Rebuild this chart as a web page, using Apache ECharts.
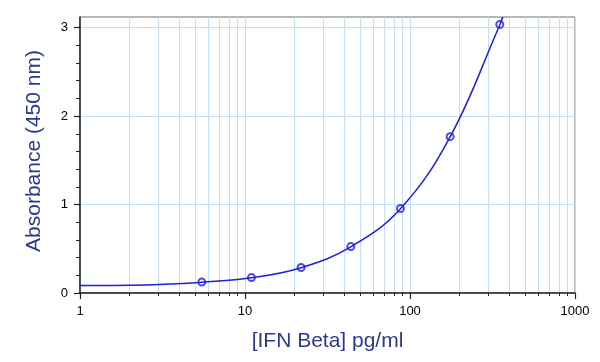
<!DOCTYPE html>
<html>
<head>
<meta charset="utf-8">
<script src="https://cdn.jsdelivr.net/npm/echarts@6/dist/echarts.min.js"></script>
<style>
html,body{margin:0;padding:0;background:#fff;}
#chart{width:600px;height:362px;}
</style>
</head>
<body>
<div id="chart"></div>
<script>
// Standard points (concentration pg/ml, absorbance)
var pointX = [5.47, 10.94, 21.88, 43.75, 87.5, 175, 350];
var pointY = [0.123, 0.174, 0.288, 0.525, 0.955, 1.767, 3.035];
// Fitted curve
var curveX = [1, 2, 3, 5.47, 10.94, 21.88, 43.75, 87.5, 175, 350, 365];
var curveY = [0.084, 0.087, 0.095, 0.122, 0.172, 0.286, 0.522, 0.953, 1.765, 3.03, 3.12];
// Tick labels
var xLabels = [1, 10, 100, 1000];
var xMinor = [1,2,3,4,5,6,7,8,9,10,20,30,40,50,60,70,80,90,100,200,300,400,500,600,700,800,900,1000];
var yLabels = [0, 1, 2, 3];
var yMinor = [0.2,0.4,0.6,0.8,1.2,1.4,1.6,1.8,2.2,2.4,2.6,2.8];

var nameColor = '#2b3a8c';
var curveColor = '#1f1fdc';
var gridColor = '#c4def4';

function zip(a, b) { return a.map(function (v, i) { return [v, b[i]]; }); }

var chart = echarts.init(document.getElementById('chart'), null, {renderer: 'canvas'});
chart.setOption({
  animation: false,
  backgroundColor: '#fff',
  grid: {left: 80, right: 25, top: 17, bottom: 69, show: true, borderColor: '#6e6e6e', borderWidth: 1, backgroundColor: 'transparent'},
  xAxis: [{
    type: 'log', logBase: 10, min: 1, max: 1000,
    name: '[IFN Beta] pg/ml', nameLocation: 'middle', nameGap: 38,
    nameTextStyle: {color: nameColor, fontSize: 21, fontFamily: 'Liberation Sans, Arial, sans-serif'},
    axisLine: {show: true, onZero: false, lineStyle: {color: '#222', width: 1.5}},
    axisTick: {show: true, length: 3, customValues: xMinor, lineStyle: {color: '#222', width: 1}},
    axisLabel: {customValues: xLabels, margin: 12, color: '#000', fontSize: 13, fontFamily: 'Liberation Sans, Arial, sans-serif', formatter: function (v) { return String(v); }},
    splitLine: {show: true, lineStyle: {color: gridColor, width: 1}},
    minorTick: {show: false}, minorSplitLine: {show: false}
  }, {
    type: 'log', logBase: 10, min: 1, max: 1000, position: 'bottom',
    axisLine: {show: false},
    axisTick: {show: true, length: 6, customValues: xLabels, lineStyle: {color: '#222', width: 1.2}},
    axisLabel: {show: false},
    splitLine: {show: false}
  }],
  yAxis: [{
    type: 'value', min: 0, max: 3.12,
    name: 'Absorbance (450 nm)', nameLocation: 'middle', nameGap: 35,
    nameTextStyle: {color: nameColor, fontSize: 21, fontFamily: 'Liberation Sans, Arial, sans-serif', padding: [0, 0, 0, 8]},
    axisLine: {show: true, onZero: false, lineStyle: {color: '#222', width: 1.5}},
    axisTick: {show: true, length: 6, customValues: yLabels, lineStyle: {color: '#222', width: 1.2}},
    axisLabel: {customValues: yLabels, margin: 12, color: '#000', fontSize: 13, fontFamily: 'Liberation Sans, Arial, sans-serif'},
    splitLine: {show: true, lineStyle: {color: gridColor, width: 1}}
  }, {
    type: 'value', min: 0, max: 3.12, position: 'left',
    axisLine: {show: false},
    axisTick: {show: true, length: 4, customValues: yMinor, lineStyle: {color: '#222', width: 1}},
    axisLabel: {show: false},
    splitLine: {show: false}
  }],
  series: [{
    type: 'line', xAxisIndex: 0, yAxisIndex: 0,
    data: zip(curveX, curveY), smooth: 0.4, showSymbol: false, symbol: 'none',
    lineStyle: {color: curveColor, width: 1.5}, clip: true, z: 3
  }, {
    type: 'scatter', xAxisIndex: 0, yAxisIndex: 0,
    data: zip(pointX, pointY), symbol: 'circle', symbolSize: 7,
    itemStyle: {color: 'rgba(255,255,255,0)', borderColor: curveColor, borderWidth: 2}, z: 4
  }]
});
</script>
</body>
</html>
